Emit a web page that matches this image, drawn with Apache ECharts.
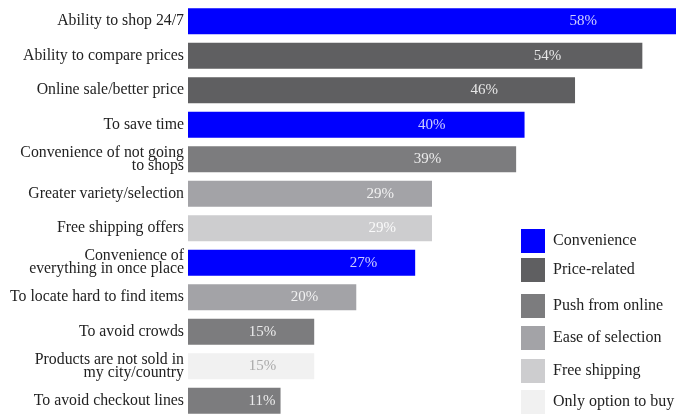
<!DOCTYPE html>
<html>
<head>
<meta charset="utf-8">
<script src="https://cdn.jsdelivr.net/npm/echarts@6/dist/echarts.min.js"></script>
<style>html,body{margin:0;padding:0;background:#fff;overflow:hidden;}#c{width:679px;height:418px;}</style>
</head>
<body>
<div id="c"></div>
<script>
// ---- data ----
const categories = [
  'Ability to shop 24/7',
  'Ability to compare prices',
  'Online sale/better price',
  'To save time',
  'Convenience of not going\nto shops',
  'Greater variety/selection',
  'Free shipping offers',
  'Convenience of\neverything in once place',
  'To locate hard to find items',
  'To avoid crowds',
  'Products are not sold in\nmy city/country',
  'To avoid checkout lines'
];
const values = [58, 54, 46, 40, 39, 29, 29, 27, 20, 15, 15, 11];
const groups = ['Convenience', 'Price-related', 'Push from online', 'Ease of selection', 'Free shipping', 'Only option to buy'];
const categoryGroup = [0, 1, 1, 0, 2, 3, 4, 0, 3, 2, 5, 2];

// ---- styling / layout ----
const groupColors = ['#0000ff', '#5f5f61', '#7c7c7e', '#a3a3a7', '#cdcdcf', '#f1f1f1'];
const labelColors = ['rgba(255,255,255,0.8)', 'rgba(255,255,255,0.85)', 'rgba(255,255,255,0.85)', 'rgba(255,255,255,0.85)', 'rgba(255,255,255,0.9)', '#aaaaaa'];
const labelShift = [-74, -76, -72, -74, -70, -33, -31, -33, -33, -33, -33, 0];
const legendTops = [229, 258, 294, 326, 359, 390];
const FONT = '"Liberation Serif", "DejaVu Serif", serif';

const series = groups.map((g, gi) => ({
  name: g,
  type: 'bar',
  stack: 'all',
  barWidth: 26,
  itemStyle: { color: groupColors[gi] },
  data: values.map((v, i) => categoryGroup[i] === gi ? {
    value: v,
    label: {
      show: true,
      position: 'insideRight',
      offset: [labelShift[i], 0],
      formatter: '{c}%',
      color: labelColors[gi],
      fontFamily: FONT,
      fontSize: 15
    }
  } : '-')
}));

const legends = groups.map((g, gi) => ({
  data: [g],
  left: 521,
  top: legendTops[gi],
  padding: 0,
  itemWidth: 24,
  itemHeight: 24,
  icon: 'rect',
  selectedMode: false,
  textStyle: { fontFamily: FONT, fontSize: 16, color: '#222', padding: [0, 0, 0, 3] }
}));

const chart = echarts.init(document.getElementById('c'));
chart.setOption({
  animation: false,
  backgroundColor: '#fff',
  legend: legends,
  grid: { left: 188, right: 3, top: 4, bottom: 0, containLabel: false },
  xAxis: { type: 'value', min: 0, max: 58, show: false },
  yAxis: {
    type: 'category',
    inverse: true,
    data: categories,
    axisLine: { show: false },
    axisTick: { show: false },
    axisLabel: {
      margin: 4,
      fontFamily: FONT,
      fontSize: 15.8,
      color: '#222',
      lineHeight: 13,
      align: 'right'
    }
  },
  series: series
});
</script>
</body>
</html>
